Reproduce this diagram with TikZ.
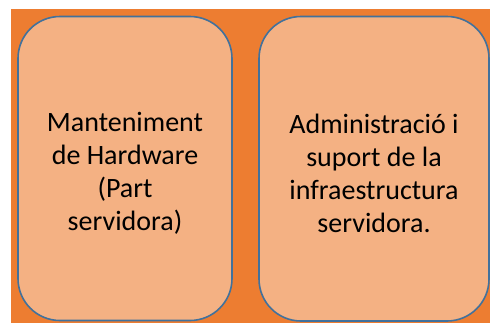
\documentclass[tikz,border=0pt]{standalone}
\usepackage{fontspec}
\setmainfont{Carlito}
\definecolor{bgorange}{HTML}{ED7D31}
\definecolor{boxfill}{HTML}{F4B183}
\definecolor{boxline}{HTML}{41719C}
\tikzset{
  card/.style={draw=boxline, line width=1.6pt, fill=boxfill, rounded corners=42pt},
  cardtext/.style={align=center, font=\fontsize{28}{33}\selectfont, text=black}
}
\begin{document}
\begin{tikzpicture}[x=1pt,y=-1pt]
\useasboundingbox (0,0) rectangle (490,322);
\clip (0,0) rectangle (490,322);
\fill[white] (0,0) rectangle (490,322);
\fill[bgorange] (11,9) rectangle (492,324);
\draw[card] (18,16.5) rectangle (232,320.5);
\draw[card] (259,16.5) rectangle (489,321);
\node[cardtext] (left) at (125,173) {Manteniment\\de Hardware\\(Part\\servidora)};
\node[cardtext] (right) at (374,173) {Administració i\\suport de la\\infraestructura\\servidora.};
\end{tikzpicture}
\end{document}
